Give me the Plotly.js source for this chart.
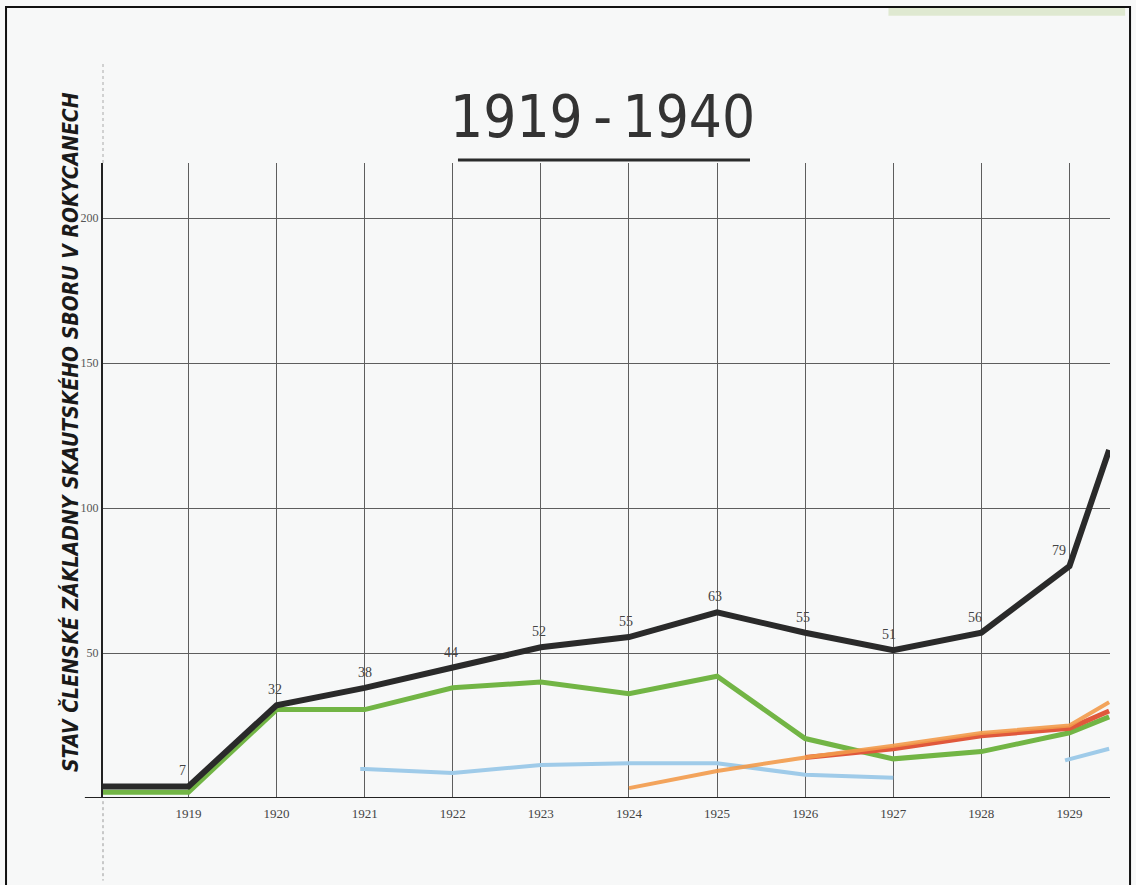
<!DOCTYPE html>
<html>
<head>
<meta charset="utf-8">
<script src="https://cdn.plot.ly/plotly-3.0.1.min.js"></script>
<style>
  html, body { margin: 0; padding: 0; background: #f7f8f8; }
  #chart { width: 1136px; height: 885px; }
</style>
</head>
<body>
<div id="chart"></div>
<script>
// ---- data ----
var years = [1919, 1920, 1921, 1922, 1923, 1924, 1925, 1926, 1927, 1928, 1929];
var yearLabels = ['1919', '1920', '1921', '1922', '1923', '1924', '1925', '1926', '1927', '1928', '1929'];

var blackX = [1918.03, 1919, 1920, 1921, 1922, 1923, 1924, 1925, 1926, 1927, 1928, 1929, 1929.45];
var blackY = [4, 4, 32, 38, 45, 52, 55.5, 64, 57, 51, 57, 80, 120];
var blackLabels = ['', '7', '32', '38', '44', '52', '55', '63', '55', '51', '56', '79', ''];
var blackLabelShiftX = [0, -6, -2, 0, -2, -2, -3, -2, -2, -4, -6, -10, 0];

var greenX = [1918.03, 1919, 1920, 1921, 1922, 1923, 1924, 1925, 1926, 1927, 1928, 1929, 1929.45];
var greenY = [2, 2, 30.5, 30.5, 38, 40, 36, 42, 20.5, 13.5, 16, 22.5, 28];

var blueX = [1920.95, 1921, 1922, 1923, 1924, 1925, 1926, 1927];
var blueY = [10, 10, 8.6, 11.4, 12, 12, 8, 7];
var blue2X = [1928.95, 1929.45];
var blue2Y = [13, 17];

var orangeX = [1924, 1925, 1926, 1927, 1928, 1929, 1929.45];
var orangeY = [3.4, 9.3, 14, 18, 22.4, 25, 33];

var redX = [1926, 1927, 1928, 1929, 1929.45];
var redY = [14, 17, 21.5, 24, 30];

var yTicks = [50, 100, 150, 200];
var yTickLabels = ['50', '100', '150', '200'];

var chartTitle = '1919\u2009-\u20091940';
var yTitle = 'STAV ČLENSKÉ ZÁKLADNY SKAUTSKÉHO SBORU V ROKYCANECH';

// ---- traces ----
var traces = [
  { x: blueX, y: blueY, mode: 'lines', line: { color: '#9fcbe9', width: 4 }, hoverinfo: 'skip' },
  { x: blue2X, y: blue2Y, mode: 'lines', line: { color: '#9fcbe9', width: 4 }, hoverinfo: 'skip' },
  { x: greenX, y: greenY, mode: 'lines', line: { color: '#72b545', width: 5 }, hoverinfo: 'skip' },
  { x: redX, y: redY, mode: 'lines', line: { color: '#e0583c', width: 5 }, hoverinfo: 'skip' },
  { x: orangeX, y: orangeY, mode: 'lines', line: { color: '#f29a4a', width: 4 }, opacity: 0.9, hoverinfo: 'skip' },
  { x: blackX, y: blackY, mode: 'lines', line: { color: '#2a2a2a', width: 6 }, hoverinfo: 'skip' }
];

// value labels above the black line, built from the data arrays
var labelAnnotations = [];
for (var i = 0; i < blackX.length; i++) {
  if (!blackLabels[i]) continue;
  labelAnnotations.push({
    x: blackX[i], y: blackY[i], xref: 'x', yref: 'y', text: blackLabels[i],
    showarrow: false, xanchor: 'center', yanchor: 'bottom',
    yshift: 6, xshift: blackLabelShiftX[i],
    font: { family: 'Liberation Serif, serif', size: 14, color: '#444' }
  });
}

var layout = {
  width: 1136, height: 885,
  margin: { l: 103, r: 26, t: 163, b: 87 },
  paper_bgcolor: '#f7f8f8',
  plot_bgcolor: '#f7f8f8',
  showlegend: false,
  xaxis: {
    range: [1918.03, 1929.46],
    tickvals: years, ticktext: yearLabels,
    showgrid: true, gridcolor: '#5e5e5e', gridwidth: 1,
    zeroline: false, showline: false, ticks: '',
    ticklabelstandoff: 6,
    tickfont: { family: 'Liberation Serif, serif', size: 13, color: '#444' }
  },
  yaxis: {
    range: [0, 219],
    tickvals: yTicks, ticktext: yTickLabels,
    showgrid: true, gridcolor: '#5e5e5e', gridwidth: 1,
    zeroline: false, showline: true, linecolor: '#222', linewidth: 2, ticks: '',
    tickfont: { family: 'Liberation Serif, serif', size: 12, color: '#555' }
  },
  annotations: labelAnnotations.concat([
    { text: chartTitle, xref: 'paper', yref: 'paper', x: 0.4965, y: 1.072,
      xanchor: 'center', yanchor: 'middle', showarrow: false,
      font: { family: 'DejaVu Sans Condensed, sans-serif', size: 58, color: '#333' } },
    { text: '<b><i>' + yTitle + '</i></b>', xref: 'paper', yref: 'paper', x: -0.033, y: 0.576,
      xanchor: 'center', yanchor: 'middle', textangle: -90, showarrow: false,
      font: { family: 'DejaVu Sans Condensed, sans-serif', size: 21, color: '#1a1a1a' } }
  ]),
  shapes: [
    // title underline
    { type: 'line', xref: 'paper', yref: 'paper', x0: 0.3525, x1: 0.6425, y0: 1.0047, y1: 1.0047,
      line: { color: '#2b2b2b', width: 3 } },
    // x axis base line extending left of the y axis
    { type: 'line', xref: 'paper', yref: 'y', x0: -0.018, x1: 1, y0: 0, y1: 0,
      line: { color: '#222', width: 2 } },
    // faint pencil continuations of the y axis
    { type: 'line', xref: 'paper', yref: 'paper', x0: 0, x1: 0, y0: 1.0, y1: 1.16,
      line: { color: '#aaa', width: 1, dash: 'dot' } },
    { type: 'line', xref: 'paper', yref: 'paper', x0: 0, x1: 0, y0: -0.005, y1: -0.13,
      line: { color: '#999', width: 1, dash: 'dot' } },
    // green tint at the top edge of the scan
    { type: 'rect', xref: 'paper', yref: 'paper', x0: 0.78, x1: 1.015, y0: 1.232, y1: 1.244,
      line: { width: 0 }, fillcolor: 'rgba(170,200,120,0.3)' },
    // scan frame
    { type: 'rect', xref: 'paper', yref: 'paper', x0: -0.0963, x1: 1.0199, y0: -0.16, y1: 1.2457,
      line: { color: '#111', width: 2 } }
  ]
};

Plotly.newPlot('chart', traces, layout, { staticPlot: true, displayModeBar: false });
</script>
</body>
</html>
